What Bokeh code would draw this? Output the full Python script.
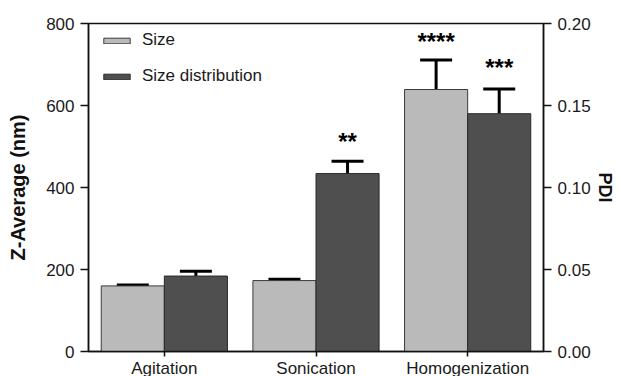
from bokeh.plotting import figure
from bokeh.models import (Range1d, LinearAxis, FixedTicker, Whisker, ColumnDataSource,
                          TeeHead, Legend, LegendItem, NumeralTickFormatter)
from bokeh.core.properties import value
from bokeh.embed import file_html
from bokeh.resources import INLINE

categories = ["Agitation", "Sonication", "Homogenization"]
size_nm = [160, 173, 639]
size_err = [2, 3, 72]
pdi = [0.046, 0.1085, 0.145]
pdi_err = [0.003, 0.0075, 0.015]
sig_size = ["", "", "****"]
sig_pdi = ["", "**", "***"]
sig_size_y = [0, 0, 755]
sig_pdi_y = [0, 0.128, 0.173]

FONT = "Liberation Sans"
xs = list(range(len(categories)))
off = 0.208
bw = 0.416

p = figure(output_backend="svg", toolbar_location=None,
           x_range=Range1d(-0.5, 2.5), y_range=Range1d(0, 800),
           frame_width=455, frame_height=328,
           min_border_left=88, min_border_right=64, min_border_top=23, min_border_bottom=25)
p.extra_y_ranges = {"pdi": Range1d(0, 0.2)}
p.background_fill_color = "white"
p.border_fill_color = "white"
p.outline_line_color = "#111111"
p.outline_line_width = 1.5
p.xgrid.visible = False
p.ygrid.visible = False

src_s = ColumnDataSource(dict(x=[x - off for x in xs], top=size_nm,
                              up=[a + b for a, b in zip(size_nm, size_err)]))
src_p = ColumnDataSource(dict(x=[x + off for x in xs], top=pdi,
                              up=[a + b for a, b in zip(pdi, pdi_err)]))

r1 = p.vbar(x="x", top="top", width=bw, source=src_s, fill_color="#bababa",
            line_color="#3a3a3a", line_width=1)
r2 = p.vbar(x="x", top="top", width=bw, source=src_p, fill_color="#4f4f4f",
            line_color="#2a2a2a", line_width=1, y_range_name="pdi")

w1 = Whisker(base="x", lower="top", upper="up", source=src_s, dimension="height",
             line_color="black", line_width=3, lower_head=None,
             upper_head=TeeHead(size=32, line_width=3, line_color="black"))
w2 = Whisker(base="x", lower="top", upper="up", source=src_p, dimension="height",
             line_color="black", line_width=3, lower_head=None, y_range_name="pdi",
             upper_head=TeeHead(size=32, line_width=3, line_color="black"))
p.add_layout(w1)
p.add_layout(w2)

p.text(x=[x - off for x in xs], y=sig_size_y, text=sig_size, text_align="center",
       text_baseline="middle", text_font=value(FONT), text_font_size="24px",
       text_font_style="bold", text_color="black")
p.text(x=[x + off for x in xs], y=sig_pdi_y, text=sig_pdi, text_align="center",
       text_baseline="middle", text_font=value(FONT), text_font_size="24px",
       text_font_style="bold", text_color="black", y_range_name="pdi")

# axes styling
xa = p.xaxis[0]
xa.ticker = FixedTicker(ticks=xs)
xa.major_label_overrides = {i: c for i, c in enumerate(categories)}
xa.major_tick_out = 5
xa.major_tick_in = 0
xa.minor_tick_line_color = None
xa.major_label_standoff = 2

ya = p.yaxis[0]
ya.ticker = FixedTicker(ticks=[0, 200, 400, 600, 800])
ya.axis_label = "Z-Average (nm)"
ya.major_tick_out = 8
ya.major_tick_in = 0
ya.minor_tick_line_color = None
ya.major_label_standoff = 6
ya.axis_label_standoff = 14

ra = LinearAxis(y_range_name="pdi", ticker=FixedTicker(ticks=[0, 0.05, 0.1, 0.15, 0.2]),
                formatter=NumeralTickFormatter(format="0.00"), axis_label="PDI")
ra.major_tick_out = 8
ra.major_tick_in = 0
ra.minor_tick_line_color = None
ra.major_label_standoff = 6
ra.axis_label_standoff = 1
p.add_layout(ra, "right")

for ax in [xa, ya, ra]:
    ax.axis_line_color = "#111111"
    ax.axis_line_width = 1.5
    ax.major_tick_line_color = "#111111"
    ax.major_tick_line_width = 1.5
    ax.major_label_text_font = FONT
    ax.major_label_text_font_size = "17px"
    ax.major_label_text_color = "#1a1a1a"
    ax.axis_label_text_font = FONT
    ax.axis_label_text_font_size = "20px"
    ax.axis_label_text_font_style = "bold"
    ax.axis_label_text_color = "#111111"
ra.axis_label_text_font_size = "18px"

legend = Legend(items=[LegendItem(label="Size", renderers=[r1]),
                       LegendItem(label="Size distribution", renderers=[r2])],
                location=(12, 265), border_line_color=None, background_fill_alpha=0,
                padding=0, margin=0, spacing=16, glyph_width=33, glyph_height=7,
                label_height=20, label_standoff=9,
                label_text_font=FONT, label_text_font_size="17px", label_text_color="#1a1a1a")
p.add_layout(legend)

open("out.html", "w").write(file_html(p, INLINE))
